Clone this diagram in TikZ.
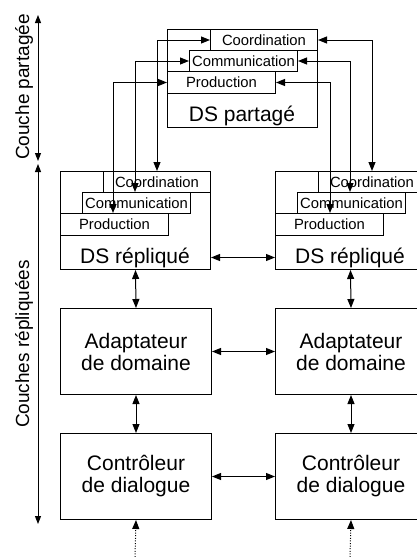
\documentclass[tikz,border=0pt]{standalone}
\usepackage{fontspec}
\setmainfont{Liberation Sans}
\usetikzlibrary{arrows.meta}
\begin{document}
\begin{tikzpicture}[x=1pt,y=-1pt,line width=1pt,
  outer/.style={draw,inner sep=0pt,anchor=north west,minimum width=150pt,minimum height=98pt},
  sub/.style={draw,inner sep=0pt,anchor=north west,minimum width=108pt,minimum height=21pt,font=\fontsize{14.8}{16}\selectfont},
  blk/.style={draw,inner sep=0pt,anchor=north west,minimum width=151pt,minimum height=86pt,align=center,font=\fontsize{21}{22}\selectfont},
  big/.style={font=\fontsize{21}{22}\selectfont,anchor=base},
  lbl/.style={font=\fontsize{19}{21}\selectfont,rotate=90},
  arr/.style={{Triangle[length=9pt,width=7pt]}-{Triangle[length=9pt,width=7pt]}},
  one/.style={-{Triangle[length=9pt,width=7pt]}},
  dots/.style={dash pattern=on 1pt off 1.6pt}]
\useasboundingbox (0,0) rectangle (417,557);

% shared DS
\node[outer] (sds) at (167,29) {};
\node[sub,minimum height=22pt] (sprod) at (167,71) {Production};
\node[sub] (scomm) at (189,50) {Communication};
\node[sub,minimum width=107pt] (scoord) at (210,29) {Coordination};
\node[big] (stxt) at (242,121) {DS partagé};

% left replicated DS
\node[outer] (lds) at (60,171) {};
\node[sub,minimum height=22pt] (lprod) at (60,213) {Production};
\node[sub] (lcomm) at (82,192) {Communication};
\node[sub,minimum width=107pt] (lcoord) at (103,171) {Coordination};
\node[big] (ltxt) at (135,263) {DS répliqué};

% right replicated DS
\node[outer] (rds) at (275,171) {};
\node[sub,minimum height=22pt] (rprod) at (275,213) {Production};
\node[sub] (rcomm) at (297,192) {Communication};
\node[sub,minimum width=107pt] (rcoord) at (318,171) {Coordination};
\node[big] (rtxt) at (350,263) {DS répliqué};

% lower blocks
\node[blk] (lad) at (60,308) {Adaptateur\\de domaine};
\node[blk] (rad) at (275,308) {Adaptateur\\de domaine};
\node[blk] (lct) at (60,433) {Contrôleur\\de dialogue};
\node[blk] (rct) at (275,433) {Contrôleur\\de dialogue};

% routing columns
\coordinate (lx1) at (157,0);
\coordinate (lx2) at (135,0);
\coordinate (lx3) at (113,0);
\coordinate (rx1) at (372,0);
\coordinate (rx2) at (350,0);
\coordinate (rx3) at (330,0);

\draw[arr] (scoord.west) -| (lx1 |- lcoord.north);
\draw[arr] (scomm.west) -| (lx2 |- lcomm.north);
\draw[arr] (sprod.west) -| (lx3 |- lprod.north);
\draw[arr] (scoord.east) -| (rx1 |- rcoord.north);
\draw[arr] (scomm.east) -| (rx2 |- rcomm.north);
\draw[arr] (sprod.east) -| (rx3 |- rprod.north);

% horizontal links
\draw[arr] ([yshift=-37pt]lds.east) -- ([yshift=-37pt]rds.west);
\draw[arr] (lad.east) -- (rad.west);
\draw[arr] (lct.east) -- (rct.west);

% vertical links
\draw[arr] (lds.south) -- (lad.north);
\draw[arr] (rds.south) -- (rad.north);
\draw[arr] (lad.south) -- (lct.north);
\draw[arr] (rad.south) -- (rct.north);

% dotted inputs
\coordinate (lin) at (135,557);
\coordinate (rin) at (350,557);
\draw[one,dots] (lin) -- (lct.south);
\draw[one,dots] (rin) -- (rct.south);

% layer axis
\coordinate (a1) at (38,15);
\coordinate (a2) at (38,161);
\coordinate (a3) at (38,164);
\coordinate (a4) at (38,524);
\draw[{Triangle[length=8pt,width=6pt]}-{Triangle[length=8pt,width=6pt]}] (a1) -- (a2);
\draw[{Triangle[length=8pt,width=6pt]}-{Triangle[length=8pt,width=6pt]}] (a3) -- (a4);
\node[lbl] (l1) at (24,87) {Couche partagée};
\node[lbl] (l2) at (24,344) {Couches répliquées};
\end{tikzpicture}
\end{document}
